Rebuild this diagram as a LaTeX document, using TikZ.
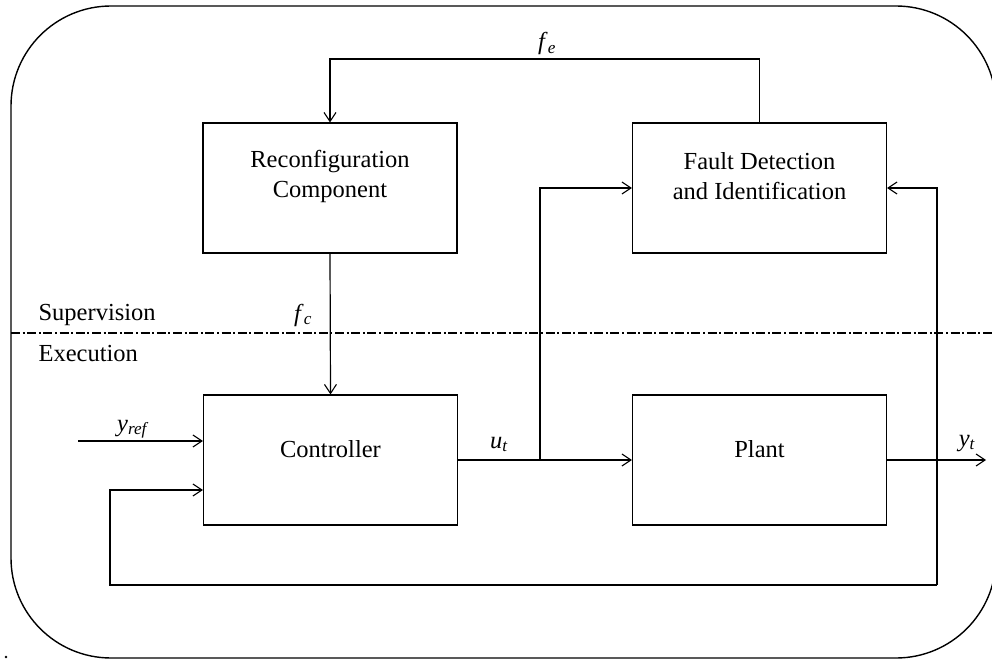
\documentclass[tikz,border=0pt]{standalone}
\usepackage{fontspec}
\setmainfont{Liberation Serif}
\usetikzlibrary{arrows.meta}
\newcommand{\ivar}[2]{\textit{#1}\textsubscript{\textit{#2}}}
\begin{document}
\begin{tikzpicture}[x=1pt,y=-1pt,
  line width=1.2pt,
  every node/.style={font=\fontsize{24.5}{30}\selectfont},
  block/.style={draw, line width=1.2pt, minimum width=254pt, minimum height=130pt, inner sep=0pt},
  txt/.style={align=center, inner sep=0pt},
  lbl/.style={inner sep=0pt, anchor=base},
  flow/.style={-{Straight Barb[length=9pt,width=12pt,line width=1.1pt]}},
  layer/.style={line width=1.1pt, dash pattern=on 9pt off 2.6pt on 2pt off 2.6pt}]
\useasboundingbox (0,0) rectangle (992,660);

% outer frame
\draw[line width=1.4pt, rounded corners=100pt] (11,6) rectangle (996,658);
\fill (6,657) circle (1.4pt);

% boundary between supervision and execution layers
\draw[layer] (11,333) -- (992,333);
\node[lbl, anchor=base west] (sup) at (38,320) {Supervision};
\node[lbl, anchor=base west] (exe) at (38,361) {Execution};

% blocks
\node[block] (rc) at (330,188) {};
\node[block] (fdi) at (759.5,188) {};
\node[block] (ctrl) at (330.5,460) {};
\node[block] (plant) at (759.5,460) {};
\node[txt] (rct) at (330,176) {Reconfiguration\\Component};
\node[txt] (fdit) at (759.5,176) {Fault Detection\\and Identification};
\node[lbl] (ctrlt) at (330.5,457) {Controller};
\node[lbl] (plantt) at (759.5,457) {Plant};

% connection points
\coordinate (top) at (759.5,59);
\coordinate (ubr) at (540,460);
\coordinate (ybr) at (937,460);
\coordinate (yend) at (986,460);
\coordinate (low) at (937,585);
\coordinate (fbl) at (110,585);
\coordinate (fbin) at (110,490);
\coordinate (yrin) at (78,441);

% supervision loop
\draw[flow] (fdi.north) -- (top) -| (rc.north);
\draw[flow] (rc.south) -- (ctrl.north);

% execution loop
\draw[flow] (yrin) -- (ctrl.west |- yrin);
\draw[flow] (ctrl.east |- ubr) -- (plant.west |- ubr);
\draw[flow] (ubr) |- (fdi.west);
\draw[flow] (plant.east |- ybr) -- (yend);
\draw[flow] (low) |- (fdi.east);
\draw[flow] (low) -- (fbl) -- (fbin) -- (ctrl.west |- fbin);

% signal labels
\node[lbl] (fe) at (547,50) {\ivar{f}{e}};
\node[lbl] (fc) at (303,321) {\ivar{f}{c}};
\node[lbl] (ut) at (499,448) {\ivar{u}{t}};
\node[lbl] (yref) at (133,431) {\ivar{y}{ref}};
\node[lbl] (yt) at (967,446) {\ivar{y}{t}};
\end{tikzpicture}
\end{document}
